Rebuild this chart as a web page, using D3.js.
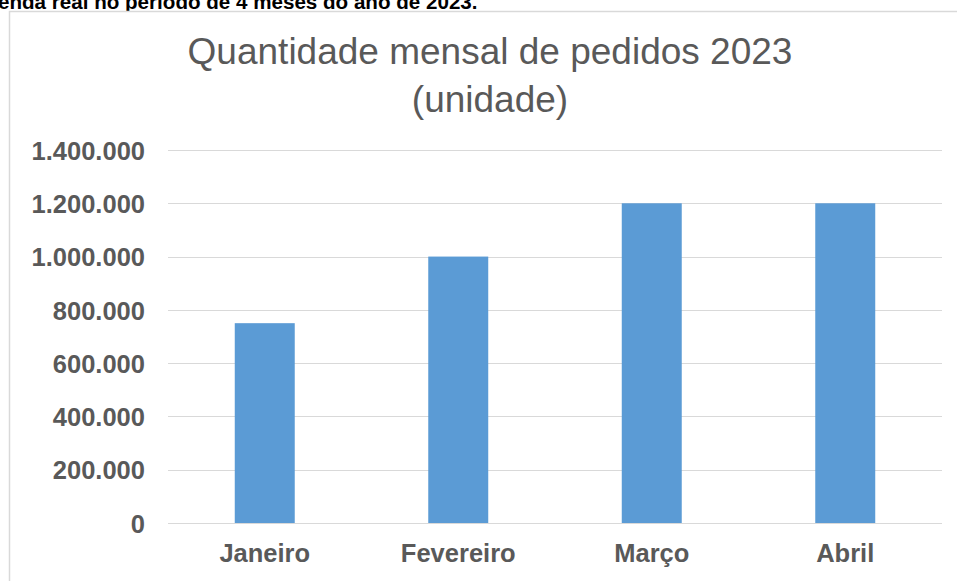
<!DOCTYPE html>
<html><head><meta charset="utf-8">
<script src="https://cdn.jsdelivr.net/npm/d3@7"></script>
<style>html,body{margin:0;padding:0;background:#fff;overflow:hidden}</style>
</head><body>
<svg id="c" width="957" height="581"></svg>
<script>
const categories = ["Janeiro", "Fevereiro", "Março", "Abril"];
const values = [750000, 1000000, 1200000, 1200000];
const yTicks = [0, 200000, 400000, 600000, 800000, 1000000, 1200000, 1400000];
const titleLines = ["Quantidade mensal de pedidos 2023", "(unidade)"];
const captionText = "enda real no período de 4 meses do ano de 2023.";

const svg = d3.select("#c");
const fmt = v => d3.format(",")(v).replace(/,/g, ".");
const FF = "Arial, 'Liberation Sans', sans-serif";

svg.append("text").attr("x", -2).attr("y", 9)
  .attr("font-family", FF)
  .attr("font-weight", "bold").attr("font-size", 20.6).attr("fill", "#000")
  .text(captionText);

svg.append("rect").attr("x", 9.5).attr("y", 11.5).attr("width", 960).attr("height", 600)
  .attr("fill", "#fff").attr("stroke", "#d9d9d9").attr("stroke-width", 1.5);

const x = d3.scaleBand().domain(categories).range([168, 942]).paddingInner(0.69).paddingOuter(0.345);
const y = d3.scaleLinear().domain([0, 1400000]).range([523, 150]);

svg.append("g").selectAll("line").data(yTicks).join("line")
  .attr("x1", 168).attr("x2", 942)
  .attr("y1", d => Math.round(y(d)) + 0.5).attr("y2", d => Math.round(y(d)) + 0.5)
  .attr("stroke", "#d9d9d9").attr("stroke-width", 1);

const yAxis = svg.append("g").attr("transform", "translate(168,0)")
  .call(d3.axisLeft(y).tickValues(yTicks).tickFormat(fmt).tickSize(0).tickPadding(23));
yAxis.select(".domain").remove();
yAxis.selectAll("text").attr("font-family", FF)
  .attr("font-weight", "bold").attr("font-size", 25.5).attr("fill", "#595959")
  .attr("dy", "0.36em");

svg.append("g").selectAll("rect").data(values).join("rect")
  .attr("x", (d, i) => x(categories[i])).attr("width", x.bandwidth())
  .attr("y", d => y(d)).attr("height", d => y(0) - y(d))
  .attr("fill", "#5b9bd5");

const xAxis = svg.append("g").attr("transform", "translate(0,523)")
  .call(d3.axisBottom(x).tickSize(0).tickPadding(21));
xAxis.select(".domain").remove();
xAxis.selectAll("text").attr("font-family", FF)
  .attr("font-weight", "bold").attr("font-size", 25.5).attr("fill", "#595959");

svg.append("g").selectAll("text").data(titleLines).join("text")
  .attr("x", 490).attr("y", (d, i) => 64 + i * 48)
  .attr("text-anchor", "middle")
  .attr("font-family", FF)
  .attr("font-size", 37).attr("fill", "#595959")
  .text(d => d);
</script>
</body></html>
